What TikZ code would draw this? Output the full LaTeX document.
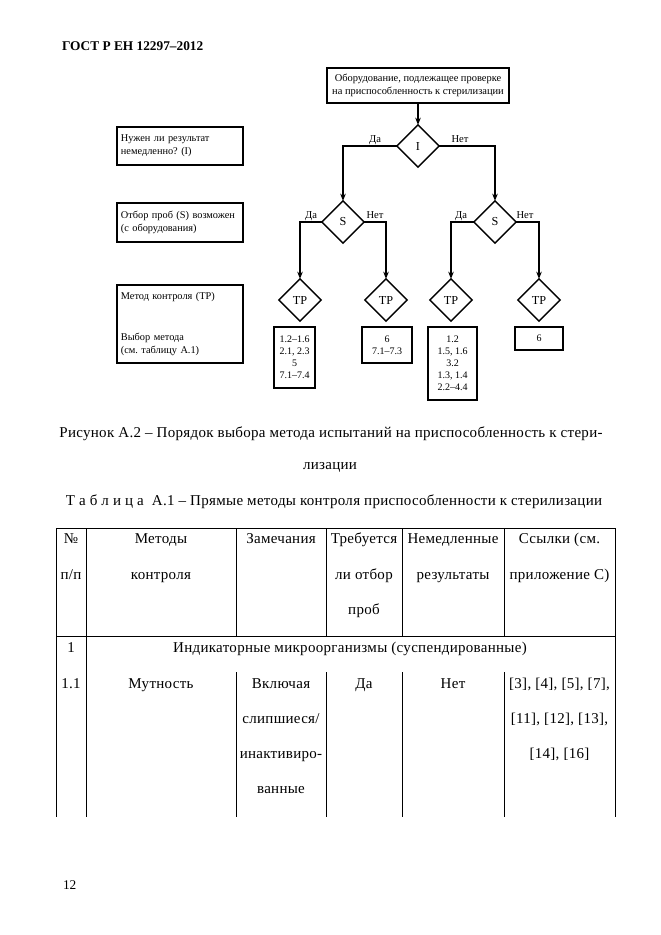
\documentclass[tikz,border=0pt]{standalone}
\usepackage{fontspec}
\setmainfont{Liberation Serif}
\newfontfamily\tabfont[LetterSpace=2]{Liberation Serif}
\usetikzlibrary{shapes.geometric,arrows.meta}
\frenchspacing
\begin{document}
\begin{tikzpicture}[x=0.9pt,y=-0.9pt,
  every node/.style={inner sep=0pt, outer sep=0pt},
  fl/.style={line width=1.2pt},
  arr/.style={fl,-{Stealth[length=6.5pt,width=5pt]}},
  fbox/.style={draw, line width=1.1pt, font=\fontsize{9.4}{11.5}\selectfont, align=center},
  lbox/.style={draw, line width=1.1pt, minimum width=113.4pt, font=\fontsize{9.3}{11.5}\selectfont, align=left, text width=106.4pt, inner xsep=3.5pt},
  dia/.style={diamond, draw, line width=1.2pt, minimum width=38pt, minimum height=38pt, inner sep=0pt, font=\fontsize{11}{12}\selectfont},
  lab/.style={font=\fontsize{9.5}{11}\selectfont, anchor=base},
  rbox/.style={draw, line width=1.1pt, align=center, font=\fontsize{9}{10.8}\selectfont},
  tx/.style={font=\tabfont\fontsize{13.5}{16}\selectfont, anchor=base},
  tl/.style={line width=0.6pt}
]
\useasboundingbox (0,0) rectangle (661,935);
\fill[white] (0,0) rectangle (661,935);

\node[anchor=base west, font=\bfseries\fontsize{12}{14}\selectfont] (hdr) at (62,50) {ГОСТ Р ЕН 12297–2012};

% flowchart
\node[fbox, minimum width=163.8pt, minimum height=31.5pt] (top) at (418,85.5) {Оборудование, подлежащее проверке\\на приспособленность к стерилизации};
\node[dia] (I) at (418,146) {I};
\node[dia] (S1) at (343,222) {S};
\node[dia] (S2) at (495,222) {S};
\node[dia] (T1) at (300,300) {TP};
\node[dia] (T2) at (386,300) {TP};
\node[dia] (T3) at (451,300) {TP};
\node[dia] (T4) at (539,300) {TP};

\draw[arr] (top.south) -- (I.north);
\draw[arr] (I.west) -| (S1.north);
\draw[arr] (I.east) -| (S2.north);
\draw[arr] (S1.west) -| (T1.north);
\draw[arr] (S1.east) -| (T2.north);
\draw[arr] (S2.west) -| (T3.north);
\draw[arr] (S2.east) -| (T4.north);

\node[lab] (da1) at (375,142) {Да};
\node[lab] (net1) at (460,142) {Нет};
\node[lab] (da2) at (311,218) {Да};
\node[lab] (net2) at (375,218) {Нет};
\node[lab] (da3) at (461,218) {Да};
\node[lab] (net3) at (525,218) {Нет};

\node[lbox, minimum height=34.2pt] (L1) at (180,146) {Нужен ли результат\\немедленно? (I)};
\node[lbox, minimum height=35.1pt] (L2) at (180,222.5) {Отбор проб (S) возможен\\(с оборудования)};
\node[lbox, minimum height=70.2pt] (L3) at (180,324) {Метод контроля (TP)\\[25pt]Выбор метода\\(см. таблицу А.1)};

\node[rbox, minimum width=36.9pt, minimum height=54.9pt] (B1) at (294.5,357.5) {1.2–1.6\\2.1, 2.3\\5\\7.1–7.4};
\node[rbox, minimum width=45pt, minimum height=32.4pt] (B2) at (387,345) {6\\7.1–7.3};
\node[rbox, minimum width=44.1pt, minimum height=65.7pt] (B3) at (452.5,363.5) {1.2\\1.5, 1.6\\3.2\\1.3, 1.4\\2.2–4.4};
\node[rbox, minimum width=43.2pt, minimum height=20.7pt] (B4) at (539,338.5) {6};

% captions
\node[tx] (cap1) at (331,437) {Рисунок А.2 – Порядок выбора метода испытаний на приспособленность к стери-};
\node[tx] (cap2) at (330,469) {лизации};
\node[tx] (ttl) at (334,505) {Т а б л и ц а\ \ А.1 – Прямые методы контроля приспособленности к стерилизации};

% table
\draw[tl] (56,528) -- (615,528);
\draw[tl] (56,636) -- (615,636);
\draw[tl] (56,528) -- (56,817);
\draw[tl] (86,528) -- (86,817);
\draw[tl] (615,528) -- (615,817);
\foreach \x in {236,326,402,504} {\draw[tl] (\x,528) -- (\x,636); \draw[tl] (\x,672) -- (\x,817);}

\node[tx] (h11) at (71,543) {№};
\node[tx] (h12) at (71,579) {п/п};
\node[tx] (h21) at (161,543) {Методы};
\node[tx] (h22) at (161,579) {контроля};
\node[tx] (h31) at (281,543) {Замечания};
\node[tx] (h41) at (364,543) {Требуется};
\node[tx] (h42) at (364,579) {ли отбор};
\node[tx] (h43) at (364,614) {проб};
\node[tx] (h51) at (453,543) {Немедленные};
\node[tx] (h52) at (453,579) {результаты};
\node[tx] (h61) at (559.5,543) {Ссылки (см.};
\node[tx] (h62) at (559.5,579) {приложение С)};

\node[tx] (r1a) at (71,652) {1};
\node[tx] (r1b) at (350,652) {Индикаторные микроорганизмы (суспендированные)};

\node[tx] (r2a) at (71,688) {1.1};
\node[tx] (r2b) at (161,688) {Мутность};
\node[tx] (r2c1) at (281,688) {Включая};
\node[tx] (r2c2) at (281,723) {слипшиеся/};
\node[tx] (r2c3) at (281,758) {инактивиро-};
\node[tx] (r2c4) at (281,793) {ванные};
\node[tx] (r2d) at (364,688) {Да};
\node[tx] (r2e) at (453,688) {Нет};
\node[tx] (r2f1) at (559.5,688) {[3], [4], [5], [7],};
\node[tx] (r2f2) at (559.5,723) {[11], [12], [13],};
\node[tx] (r2f3) at (559.5,758) {[14], [16]};

\node[anchor=base west, font=\fontsize{12}{14}\selectfont] (pg) at (63,889) {12};
\end{tikzpicture}
\end{document}
